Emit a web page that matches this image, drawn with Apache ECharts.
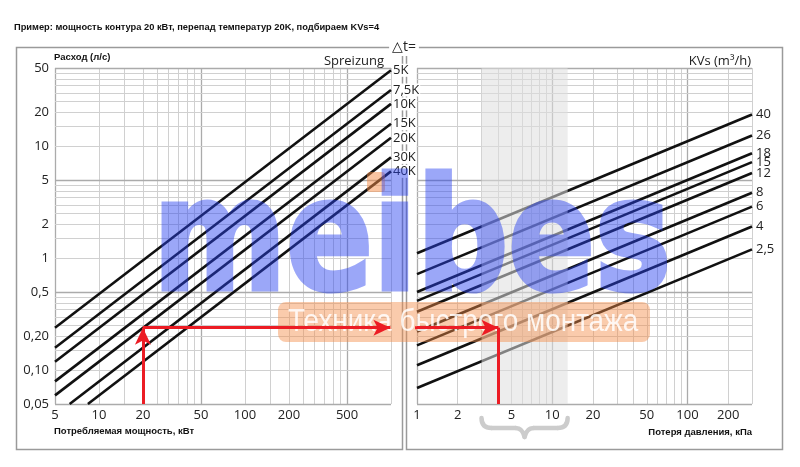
<!DOCTYPE html>
<html><head><meta charset="utf-8">
<script src="https://cdn.jsdelivr.net/npm/echarts@6/dist/echarts.min.js"></script>
<style>html,body{margin:0;padding:0;background:#fff}#c{width:800px;height:467px}</style>
</head><body><div id="c"></div>
<script>
// ---------------- data ----------------
const titleText = 'Пример: мощность контура 20 кВт, перепад температур 20K, подбираем KVs=4';
// left panel: power (kW) -> flow (l/s), one line per temperature difference
const dtNames = ['5K', '7,5K', '10K', '15K', '20K', '30K', '40K'];
const dt5 = [[5, 0.24], [1000, 47.7]];
const dt7 = [[5, 0.159], [1000, 31.8]];
const dt10 = [[5, 0.119], [1000, 23.9]];
const dt15 = [[5, 0.0796], [1000, 15.9]];
const dt20 = [[5, 0.0597], [1000, 11.9]];
const dt30 = [[6.3, 0.05], [1000, 7.96]];
const dt40 = [[8.4, 0.05], [1000, 5.97]];
const dtLines = [dt5, dt7, dt10, dt15, dt20, dt30, dt40];
// right panel: pressure loss (kPa) -> flow (l/s), one line per KVs
const kvsNames = ['40', '26', '18', '15', '12', '8', '6', '4', '2,5'];
const kv40 = [[1, 1.11], [300, 19.2]];
const kv26 = [[1, 0.722], [300, 12.5]];
const kv18 = [[1, 0.5], [300, 8.66]];
const kv15 = [[1, 0.417], [300, 7.22]];
const kv12 = [[1, 0.333], [300, 5.77]];
const kv8 = [[1, 0.222], [300, 3.85]];
const kv6 = [[1, 0.167], [300, 2.89]];
const kv4 = [[1, 0.111], [300, 1.92]];
const kv25 = [[1, 0.0694], [300, 1.2]];
const kvLines = [kv40, kv26, kv18, kv15, kv12, kv8, kv6, kv4, kv25];
// example arrows
const examplePower = 20, exampleFlow = 0.24, examplePressure = 4, arrowGapStart = 0.75, arrowLeftEnd = 990;
// shaded recommended pressure range
const bandRange = [3, 13];
// axes
const powerRange = [5, 1000], pressureRange = [1, 300], flowRange = [0.05, 50];
const powerTicks = [5, 10, 20, 50, 100, 200, 500];
const pressureTicks = [1, 2, 5, 10, 20, 50, 100, 200];
const flowTicks = [0.05, 0.1, 0.2, 0.5, 1, 2, 5, 10, 20, 50];
const flowTickLabels = ['0,05', '0,10', '0,20', '0,5', '1', '2', '5', '10', '20', '50'];
// grid lines
const powerGrid = [5, 10, 15, 20, 25, 30, 35, 40, 45, 50, 100, 150, 200, 250, 300, 350, 400, 450, 500, 1000];
const powerMajor = [5, 50, 500];
const pressureGrid = [1, 2, 3, 4, 5, 6, 7, 8, 9, 10, 20, 30, 40, 50, 60, 70, 80, 90, 100, 200, 300];
const pressureMajor = [1, 10, 100];
const flowGrid = [0.05, 0.1, 0.15, 0.2, 0.25, 0.3, 0.35, 0.4, 0.45, 0.5, 1, 1.5, 2, 2.5, 3, 3.5, 4, 4.5, 5,
                  10, 15, 20, 25, 30, 35, 40, 45, 50];
const flowMajor = [0.05, 0.5, 5, 50];

// ---------------- chart ----------------
const FONT = '"Open Sans", "DejaVu Sans", sans-serif';
const BOLDF = 'bold 9.5px "Liberation Sans", Arial, sans-serif';
const RED = '#ec1c24';
const chart = echarts.init(document.getElementById('c'));

function gl(vals, majors, key) {
  return vals.map(v => ({
    [key]: v,
    lineStyle: majors.indexOf(v) >= 0 ? { color: '#ababab', width: 1.3, type: 'solid' } : { color: '#d0d0d0', width: 1, type: 'solid' }
  }));
}
function flowLabel(v) {
  let best = 0, d = Infinity;
  flowTicks.forEach((t, i) => { const dd = Math.abs(Math.log(t) - Math.log(v)); if (dd < d) { d = dd; best = i; } });
  return flowTickLabels[best];
}
const axisLabelBase = { fontFamily: FONT, fontSize: 13, color: '#222' };

const series = [];
series.push({
  type: 'line', xAxisIndex: 0, yAxisIndex: 0, data: [[5, 0.05]], symbol: 'none', lineStyle: { width: 0 }, silent: true, z: 1,
  markLine: { z: 1, silent: true, symbol: 'none', label: { show: false }, lineStyle: { type: 'solid' },
    data: gl(powerGrid, powerMajor, 'xAxis').concat(gl(flowGrid, flowMajor, 'yAxis')) }
});
series.push({
  type: 'line', xAxisIndex: 1, yAxisIndex: 1, data: [[1, 0.05]], symbol: 'none', lineStyle: { width: 0 }, silent: true, z: 1,
  markLine: { z: 1, silent: true, symbol: 'none', label: { show: false }, lineStyle: { type: 'solid' },
    data: gl(pressureGrid, pressureMajor, 'xAxis').concat(gl(flowGrid, flowMajor, 'yAxis')) }
});
dtLines.forEach((d, i) => series.push({
  name: dtNames[i], type: 'line', xAxisIndex: 0, yAxisIndex: 0, data: d, symbol: 'none', silent: true, z: 3,
  lineStyle: { color: '#111', width: 2.6 },
  endLabel: { show: true, formatter: dtNames[i], fontFamily: FONT, fontSize: 13, color: '#222',
    backgroundColor: '#fff', padding: [0, 1, 0, 1], distance: 1 }
}));
kvLines.forEach((d, i) => series.push({
  name: kvsNames[i], type: 'line', xAxisIndex: 1, yAxisIndex: 1, data: d, symbol: 'none', silent: true, z: 3,
  lineStyle: { color: '#111', width: 2.6 },
  endLabel: { show: true, formatter: kvsNames[i], fontFamily: FONT, fontSize: 13, color: '#222', distance: 4 }
}));
series.push({
  type: 'line', xAxisIndex: 1, yAxisIndex: 1, data: [[bandRange[0], 1]], symbol: 'none', lineStyle: { width: 0 }, silent: true, z: 4,
  markArea: { z: 4, silent: true, itemStyle: { color: 'rgba(222,222,222,0.55)' }, data: [[{ xAxis: bandRange[0] }, { xAxis: bandRange[1] }]] }
});
series.push({
  type: 'line', xAxisIndex: 0, yAxisIndex: 0, data: [[examplePower, exampleFlow]], symbol: 'none', lineStyle: { width: 0 }, silent: true, z: 10,
  markLine: { z: 10, silent: true, symbol: ['none', 'arrow'], symbolSize: [12, 17], label: { show: false },
    lineStyle: { type: 'solid', color: RED, width: 3 },
    data: [
      [{ coord: [examplePower, flowRange[0]] }, { coord: [examplePower, exampleFlow] }],
      [{ coord: [examplePower, exampleFlow] }, { coord: [arrowLeftEnd, exampleFlow] }]
    ] }
});
series.push({
  type: 'line', xAxisIndex: 1, yAxisIndex: 1, data: [[arrowGapStart, exampleFlow], [pressureRange[0], exampleFlow]],
  symbol: 'none', clip: false, lineStyle: { color: RED, width: 3 }, silent: true, z: 10,
  markLine: { z: 10, silent: true, symbol: ['none', 'arrow'], symbolSize: [12, 17], label: { show: false },
    lineStyle: { type: 'solid', color: RED, width: 3 },
    data: [
      [{ coord: [pressureRange[0], exampleFlow] }, { coord: [examplePressure, exampleFlow] }],
      [{ coord: [examplePressure, exampleFlow], symbol: 'none' }, { coord: [examplePressure, flowRange[0]], symbol: 'none' }]
    ] }
});

const hid = { axisLine: { show: false }, axisTick: { show: false }, splitLine: { show: false } };
const BLUE = 'rgb(40,65,240)';
const option = {
  animation: false,
  backgroundColor: '#fff',
  grid: [
    { left: 55, top: 68, width: 336, height: 336 },
    { left: 417, top: 68, width: 335, height: 336 }
  ],
  xAxis: [
    Object.assign({ type: 'log', logBase: 10, gridIndex: 0, min: powerRange[0], max: powerRange[1],
      axisLabel: Object.assign({ customValues: powerTicks, margin: 5, formatter: v => String(v) }, axisLabelBase) }, hid),
    Object.assign({ type: 'log', logBase: 10, gridIndex: 1, min: pressureRange[0], max: pressureRange[1],
      axisLabel: Object.assign({ customValues: pressureTicks, margin: 5, formatter: v => String(v) }, axisLabelBase) }, hid)
  ],
  yAxis: [
    Object.assign({ type: 'log', logBase: 10, gridIndex: 0, min: flowRange[0], max: flowRange[1],
      axisLabel: Object.assign({ customValues: flowTicks, margin: 6, formatter: flowLabel }, axisLabelBase) }, hid),
    Object.assign({ type: 'log', logBase: 10, gridIndex: 1, min: flowRange[0], max: flowRange[1],
      axisLabel: { show: false } }, hid)
  ],
  series: series,
  graphic: [
    { type: 'text', z: 20, style: { text: titleText, x: 14, y: 27, font: 'bold 9.3px "Liberation Sans", Arial, sans-serif', fill: '#111', textVerticalAlign: 'middle' } },
    { type: 'rect', z: 0, shape: { x: 16.5, y: 47.5, width: 386, height: 402 }, style: { fill: 'none', stroke: '#9a9a9a', lineWidth: 1.5 } },
    { type: 'rect', z: 0, shape: { x: 406.5, y: 47.5, width: 376, height: 402 }, style: { fill: 'none', stroke: '#9a9a9a', lineWidth: 1.5 } },
    { type: 'text', z: 20, style: { text: '△t=', x: 404, y: 47, font: '14px ' + FONT, fill: '#222', textAlign: 'center', textVerticalAlign: 'middle',
      backgroundColor: '#fff', padding: [2, 3] } },
    { type: 'text', z: 20, style: { text: 'Расход (л/с)', x: 54, y: 57, font: BOLDF, fill: '#111', textVerticalAlign: 'middle' } },
    { type: 'text', z: 20, style: { text: 'Потребляемая мощность, кВт', x: 54, y: 431, font: BOLDF, fill: '#111', textVerticalAlign: 'middle' } },
    { type: 'text', z: 20, style: { text: 'Потеря давления, кПа', x: 752, y: 432, font: BOLDF, fill: '#111', textAlign: 'right', textVerticalAlign: 'middle' } },
    { type: 'text', z: 20, style: { text: 'Spreizung', x: 384, y: 61, font: '13px ' + FONT, fill: '#222', textAlign: 'right', textVerticalAlign: 'middle' } },
    { type: 'text', z: 20, style: { text: 'KVs (m³/h)', x: 751, y: 61, font: '13px ' + FONT, fill: '#222', textAlign: 'right', textVerticalAlign: 'middle' } },
    // watermark (own layer, made translucent as a whole)
    { type: 'text', zlevel: 1, z: 6, x: 153, y: 249, scaleX: 0.825, silent: true,
      style: { text: 'meibes', x: 0, y: 0, font: 'bold 155px "DejaVu Sans", sans-serif', fill: BLUE,
        stroke: BLUE, lineWidth: 5, lineJoin: 'round', textVerticalAlign: 'middle' } },
    { type: 'rect', z: 6, silent: true, shape: { x: 367, y: 172, width: 18, height: 20, r: 3 }, style: { fill: 'rgba(245,140,70,0.5)' } },
    { type: 'rect', z: 6, silent: true, shape: { x: 278, y: 302, width: 372, height: 40, r: 8 }, style: { fill: 'rgba(245,140,70,0.45)' } },
    { type: 'text', z: 7, silent: true, x: 288, y: 322, scaleX: 0.9,
      style: { text: 'Техника быстрого монтажа', x: 0, y: 0, font: '31px "Liberation Sans", sans-serif', fill: 'rgba(255,255,255,0.85)', textVerticalAlign: 'middle' } }
  ]
};
chart.setOption(option);

// curly brace under the shaded band, placed through the axis scale
const bx0 = chart.convertToPixel({ xAxisIndex: 1 }, bandRange[0]);
const bx1 = chart.convertToPixel({ xAxisIndex: 1 }, bandRange[1]);
const bm = (bx0 + bx1) / 2;
const bT = 418, bM = 428, bTip = 437;
const braceStyle = { fill: 'none', stroke: '#cccccc', lineWidth: 4.5, lineCap: 'round' };
const braceParts = [
  { type: 'bezierCurve', shape: { x1: bx0, y1: bT, cpx1: bx0, cpy1: bM, x2: bx0 + 10, y2: bM } },
  { type: 'line', shape: { x1: bx0 + 10, y1: bM, x2: bm - 9, y2: bM } },
  { type: 'bezierCurve', shape: { x1: bm - 9, y1: bM, cpx1: bm - 2, cpy1: bM, x2: bm, y2: bTip } },
  { type: 'bezierCurve', shape: { x1: bm, y1: bTip, cpx1: bm + 2, cpy1: bM, x2: bm + 9, y2: bM } },
  { type: 'line', shape: { x1: bm + 9, y1: bM, x2: bx1 - 10, y2: bM } },
  { type: 'bezierCurve', shape: { x1: bx1 - 10, y1: bM, cpx1: bx1, cpy1: bM, x2: bx1, y2: bT } }
];
braceParts.forEach(p => { p.z = 2; p.silent = true; p.style = braceStyle; option.graphic.push(p); });
chart.setOption({ graphic: option.graphic });

function fadeWatermarkLayer() {
  document.querySelectorAll('#c canvas').forEach(cv => {
    if (cv.getAttribute('data-zr-dom-id') === 'zr_1') cv.style.opacity = '0.46';
  });
}
fadeWatermarkLayer();
chart.on('finished', fadeWatermarkLayer);
setTimeout(fadeWatermarkLayer, 0);
</script></body></html>
